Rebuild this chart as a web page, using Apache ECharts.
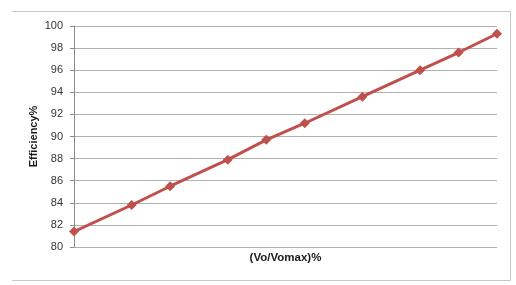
<!DOCTYPE html>
<html>
<head>
<meta charset="utf-8">
<script src="https://cdn.jsdelivr.net/npm/echarts@6/dist/echarts.min.js"></script>
<style>
html,body{margin:0;padding:0;background:#fff;}
#c{width:516px;height:285px;}
</style>
</head>
<body>
<div id="c"></div>
<script>
const xValues = [0, 3, 5, 8, 10, 12, 15, 18, 20, 22];
const efficiency = [81.4, 83.8, 85.5, 87.9, 89.7, 91.2, 93.6, 96.0, 97.6, 99.3];
const yTicks = [80, 82, 84, 86, 88, 90, 92, 94, 96, 98, 100];
const xTitle = '(Vo/Vomax)%';
const yTitle = 'Efficiency%';

const chart = echarts.init(document.getElementById('c'), null, {renderer: 'canvas'});
chart.setOption({
  animation: false,
  backgroundColor: '#ffffff',
  grid: {left: 74, right: 19, top: 26, bottom: 38},
  graphic: [
    {type: 'polyline', shape: {points: [[12, 11.5], [510.5, 11.5], [510.5, 280.5], [12, 280.5]]},
     style: {stroke: '#c8c8c8', lineWidth: 1, fill: null}}
  ],
  xAxis: {
    type: 'value', min: 0, max: 22,
    axisLine: {show: false}, axisTick: {show: false}, axisLabel: {show: false},
    splitLine: {show: false},
    name: xTitle, nameLocation: 'middle', nameGap: 5,
    nameTextStyle: {fontFamily: 'Liberation Sans', fontSize: 11.5, fontWeight: 'bold', color: '#1a1a1a'}
  },
  yAxis: {
    type: 'value', min: yTicks[0], max: yTicks[yTicks.length - 1], interval: 2,
    axisLine: {show: true, lineStyle: {color: '#8c8c8c', width: 1}},
    axisTick: {show: true, length: 4, lineStyle: {color: '#8c8c8c'}},
    axisLabel: {fontFamily: 'Liberation Sans', fontSize: 11, color: '#333333', margin: 11},
    splitLine: {show: true, lineStyle: {color: '#b0b0b0', width: 1}},
    name: yTitle, nameLocation: 'middle', nameGap: 35, nameRotate: 90, nameMoveOverlap: false,
    nameTextStyle: {fontFamily: 'Liberation Sans', fontSize: 11, fontWeight: 'bold', color: '#1a1a1a'}
  },
  series: [{
    type: 'line',
    data: xValues.map((x, i) => [x, efficiency[i]]),
    symbol: 'diamond', symbolSize: 10,
    lineStyle: {color: '#C0504D', width: 3},
    itemStyle: {color: '#C0504D'},
    clip: false
  }]
});
</script>
</body>
</html>
